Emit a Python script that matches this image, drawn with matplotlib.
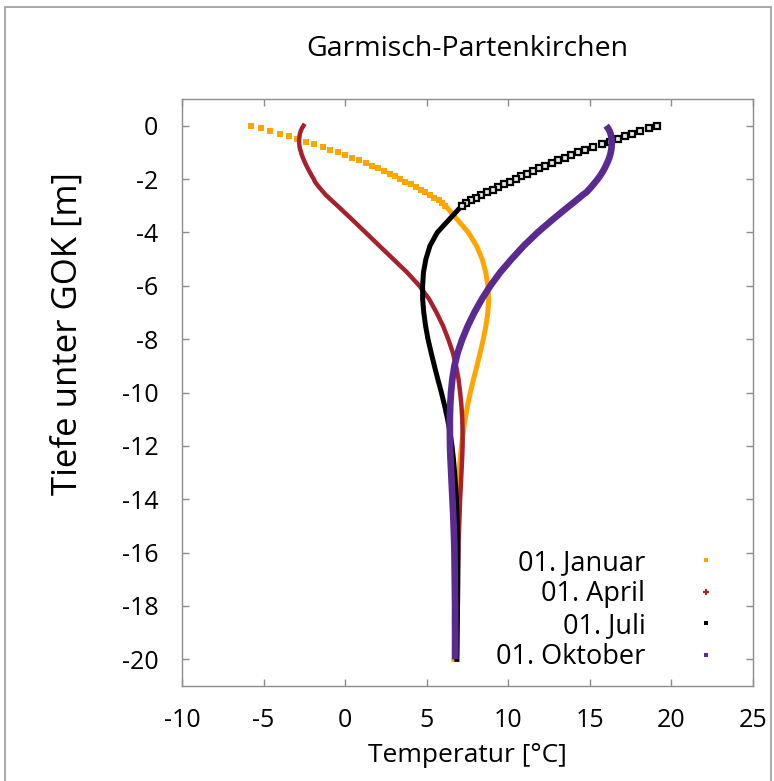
import matplotlib
matplotlib.use("Agg")
import matplotlib.pyplot as plt
from matplotlib.lines import Line2D
from matplotlib.patches import Rectangle

# Tiefe unter GOK [m]: oben fein (0.1 m), darunter grob (0.5 m)
tiefe_fein = [0.0, -0.1, -0.2, -0.3, -0.4, -0.5, -0.6, -0.7, -0.8, -0.9, -1.0,
              -1.1, -1.2, -1.3, -1.4, -1.5, -1.6, -1.7, -1.8, -1.9, -2.0,
              -2.1, -2.2, -2.3, -2.4, -2.5, -2.6, -2.7, -2.8, -2.9, -3.0]
tiefe_grob = [-3.5, -4.0, -4.5, -5.0, -5.5, -6.0, -6.5, -7.0, -7.5, -8.0,
              -8.5, -9.0, -9.5, -10.0, -10.5, -11.0, -11.5, -12.0, -12.5, -13.0,
              -13.5, -14.0, -14.5, -15.0, -15.5, -16.0, -16.5, -17.0, -17.5, -18.0,
              -18.5, -19.0, -19.5, -20.0]

# Temperatur [°C] je Stichtag
januar_fein = [-5.75, -5.15, -4.58, -4.02, -3.47, -2.93, -2.40, -1.88, -1.38, -0.90, -0.43,
               0.02, 0.45, 0.87, 1.27, 1.66, 2.03, 2.39, 2.73, 3.06, 3.38,
               3.70, 4.01, 4.32, 4.62, 4.92, 5.20, 5.47, 5.73, 5.95, 6.15]
januar_grob = [6.85, 7.55, 8.05, 8.40, 8.62, 8.75, 8.80, 8.75, 8.63, 8.47,
               8.28, 8.08, 7.87, 7.67, 7.50, 7.35, 7.23, 7.13, 7.05, 6.98,
               6.92, 6.87, 6.83, 6.80, 6.77, 6.75, 6.73, 6.72, 6.71, 6.70,
               6.69, 6.68, 6.68, 6.67]

april_fein = [-2.55, -2.65, -2.72, -2.77, -2.80, -2.82, -2.82, -2.81, -2.79, -2.75, -2.70,
              -2.65, -2.59, -2.52, -2.45, -2.37, -2.29, -2.20, -2.11, -2.02, -1.92,
              -1.85, -1.73, -1.60, -1.46, -1.32, -1.18, -1.00, -0.83, -0.65, -0.47]
april_grob = [0.40, 1.25, 2.10, 2.95, 3.80, 4.55, 5.15, 5.60, 6.00, 6.32,
              6.60, 6.80, 6.95, 7.05, 7.13, 7.18, 7.20, 7.20, 7.17, 7.13,
              7.09, 7.05, 7.02, 6.99, 6.96, 6.94, 6.92, 6.90, 6.89, 6.88,
              6.87, 6.86, 6.86, 6.85]

juli_fein = [19.10, 18.60, 18.10, 17.60, 17.15, 16.70, 16.22, 15.72, 15.22, 14.72, 14.25,
             13.85, 13.45, 13.05, 12.65, 12.25, 11.87, 11.50, 11.14, 10.79, 10.45,
             10.10, 9.75, 9.40, 9.05, 8.70, 8.35, 8.00, 7.70, 7.42, 7.15]
juli_grob = [6.40, 5.65, 5.20, 4.95, 4.80, 4.75, 4.75, 4.82, 4.93, 5.08,
             5.27, 5.47, 5.68, 5.90, 6.10, 6.28, 6.43, 6.55, 6.64, 6.71,
             6.77, 6.82, 6.85, 6.88, 6.90, 6.91, 6.91, 6.91, 6.90, 6.89,
             6.88, 6.87, 6.86, 6.85]

oktober_fein = [16.00, 16.12, 16.21, 16.27, 16.31, 16.33, 16.34, 16.34, 16.33, 16.31, 16.28,
                16.24, 16.19, 16.13, 16.06, 15.98, 15.90, 15.81, 15.71, 15.60, 15.48,
                15.35, 15.22, 15.08, 14.93, 14.78, 14.55, 14.36, 14.16, 13.96, 13.75]
oktober_grob = [12.75, 11.80, 10.95, 10.20, 9.50, 8.90, 8.38, 7.92, 7.52, 7.18,
                6.90, 6.70, 6.57, 6.49, 6.44, 6.42, 6.42, 6.43, 6.46, 6.50,
                6.54, 6.58, 6.62, 6.65, 6.68, 6.70, 6.71, 6.72, 6.73, 6.74,
                6.74, 6.75, 6.75, 6.75]

namen = ["01. Januar", "01. April", "01. Juli", "01. Oktober"]
farben = ["#ffa500", "#a5222d", "#000000", "#5b2a91"]

plt.rcParams["font.family"] = ["Open Sans", "DejaVu Sans"]
plt.rcParams["axes.unicode_minus"] = False
grau = "#8c8c8c"

fig = plt.figure(figsize=(7.74, 7.81), dpi=100)
ax = fig.add_axes([0.2351, 0.1216, 0.7378, 0.7516])

# Januar: oben einzelne Punkte, unten Band
ax.plot(januar_fein, tiefe_fein, ls="none", marker="s", ms=4.0, color=farben[0], mew=0)
ax.plot([januar_fein[-1]] + januar_grob, [tiefe_fein[-1]] + tiefe_grob, color=farben[0], lw=3.6)

# April
ax.plot(april_fein + april_grob, tiefe_fein + tiefe_grob, color=farben[1], lw=3.2)

# Juli: offene Quadrate oben
ax.plot([juli_fein[-1]] + juli_grob, [tiefe_fein[-1]] + tiefe_grob, color=farben[2], lw=3.6)
ax.plot(juli_fein, tiefe_fein, ls="none", marker="s", ms=4.3, mfc="#e6e6e6", mec="black", mew=1.6)

# Oktober
ax.plot(oktober_fein + oktober_grob, tiefe_fein + tiefe_grob, color=farben[3], lw=4.8,
        solid_capstyle="butt")

ax.set_xlim(-10, 25)
ax.set_ylim(-21, 1)
ax.set_xticks([-10, -5, 0, 5, 10, 15, 20, 25])
ax.set_yticks([0, -2, -4, -6, -8, -10, -12, -14, -16, -18, -20])
ax.tick_params(direction="in", length=5, width=1, color=grau, top=True, right=True,
               labelsize=18)
ax.tick_params(axis="x", pad=16)
ax.tick_params(axis="y", pad=17)
for s in ax.spines.values():
    s.set_color(grau)
    s.set_linewidth(1)

ax.set_xlabel("Temperatur [°C]", fontsize=19, labelpad=7)
ax.set_ylabel("Tiefe unter GOK [m]", fontsize=25)
ax.yaxis.set_label_coords(-0.171, 0.60)
ax.set_title("Garmisch-Partenkirchen", fontsize=20.5, pad=31)

# Legende rechts unten, Symbol rechts vom Text
griffe = [
    Line2D([], [], ls="none", marker="s", ms=3, color=farben[0], mew=0),
    Line2D([], [], ls="none", marker="+", ms=4, color=farben[1], mew=1.5),
    Line2D([], [], ls="none", marker="s", ms=3, color=farben[2], mew=0),
    Line2D([], [], ls="none", marker="s", ms=3, color=farben[3], mew=0),
]
ax.legend(griffe, namen, loc="lower right", bbox_to_anchor=(0.9506, 0.0063), frameon=False,
          markerfirst=False, fontsize=19.5, handlelength=0.6, handletextpad=1.93,
          labelspacing=0.13, borderaxespad=0)

# grauer Rahmen um das Bild
fig.patches.append(Rectangle((5 / 774, -0.05), 766 / 774, 1 - 7 / 781 + 0.05,
                             transform=fig.transFigure, fill=False, edgecolor="#9a9a9a", lw=1.2))

plt.savefig("out.png", dpi=100)
